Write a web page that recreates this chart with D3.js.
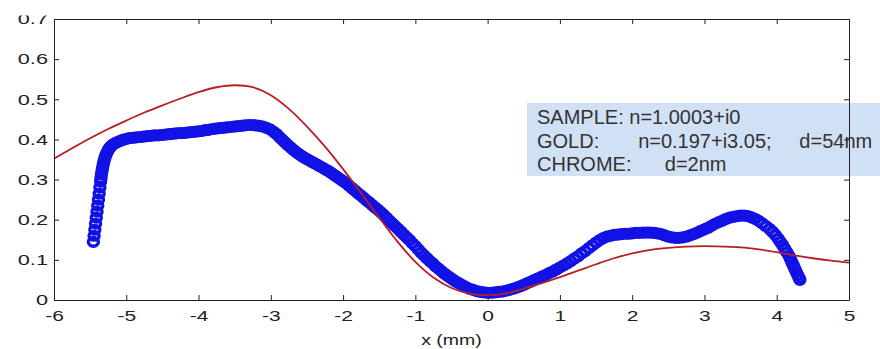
<!DOCTYPE html>
<html>
<head>
<meta charset="utf-8">
<script src="https://cdn.jsdelivr.net/npm/d3@7"></script>
<style>
  html, body { margin: 0; padding: 0; background: #fff; }
  svg { display: block; }
</style>
</head>
<body>
<svg id="chart" width="880" height="349"></svg>
<script>
// Axis ticks
const xTicks = [-6, -5, -4, -3, -2, -1, 0, 1, 2, 3, 4, 5];
const yTicks = [0, 0.1, 0.2, 0.3, 0.4, 0.5, 0.6, 0.7];
const yTickLabels = ["0", "0.1", "0.2", "0.3", "0.4", "0.5", "0.6", "0.7"];
const xAxisLabel = "x (mm)";

// Annotation lines
const infoLines = [
  "SAMPLE: n=1.0003+i0",
  "GOLD:       n=0.197+i3.05;     d=54nm",
  "CHROME:      d=2nm"
];

// Measured reflectance vs. position (x in mm, reflectance)
const measured = [
  [-5.455,0.145],[-5.445,0.160],[-5.435,0.175],[-5.425,0.190],[-5.415,0.205],[-5.405,0.220],
  [-5.395,0.235],[-5.385,0.250],[-5.375,0.265],[-5.365,0.280],[-5.355,0.295],
  [-5.35,0.304],[-5.343,0.313],[-5.335,0.322],[-5.326,0.331],[-5.316,0.340],[-5.305,0.348],
  [-5.292,0.356],[-5.278,0.363],[-5.262,0.369],[-5.245,0.375],[-5.225,0.380],[-5.20,0.385],
  [-5.17,0.389],[-5.13,0.393],[-5.09,0.396],[-5.05,0.399],[-5.01,0.401],
  [-4.96,0.403],[-4.91,0.404],[-4.86,0.405],[-4.81,0.406],[-4.76,0.407],[-4.71,0.408],
  [-4.66,0.409],[-4.61,0.410],[-4.56,0.410],[-4.51,0.411],[-4.46,0.412],[-4.41,0.413],
  [-4.36,0.414],[-4.31,0.415],[-4.26,0.416],[-4.21,0.416],[-4.16,0.417],[-4.11,0.418],
  [-4.06,0.419],[-4.01,0.420],[-3.96,0.421],[-3.91,0.423],[-3.86,0.424],[-3.81,0.426],
  [-3.76,0.427],[-3.71,0.428],[-3.66,0.429],[-3.61,0.430],[-3.56,0.431],[-3.51,0.432],
  [-3.46,0.433],[-3.41,0.434],[-3.36,0.435],[-3.31,0.436],[-3.26,0.436],[-3.21,0.435],
  [-3.16,0.434],[-3.11,0.432],[-3.06,0.429],[-3.01,0.425],
  [-2.96,0.419],[-2.92,0.413],[-2.88,0.406],[-2.84,0.399],[-2.80,0.392],[-2.76,0.385],
  [-2.72,0.379],[-2.68,0.373],[-2.64,0.367],[-2.60,0.362],[-2.56,0.357],[-2.52,0.353],
  [-2.48,0.349],[-2.44,0.345],[-2.40,0.341],[-2.36,0.337],[-2.32,0.333],[-2.28,0.329],
  [-2.24,0.325],[-2.20,0.321],[-2.16,0.316],[-2.12,0.311],[-2.08,0.306],[-2.04,0.301],
  [-2.00,0.296],[-1.96,0.291],[-1.92,0.285],[-1.88,0.279],[-1.84,0.273],[-1.80,0.267],
  [-1.76,0.261],[-1.72,0.255],[-1.68,0.249],[-1.64,0.243],[-1.60,0.237],[-1.56,0.231],
  [-1.52,0.225],[-1.48,0.219],[-1.44,0.212],[-1.40,0.205],[-1.36,0.198],[-1.32,0.191],
  [-1.28,0.184],[-1.24,0.177],[-1.20,0.170],[-1.16,0.163],[-1.12,0.156],[-1.08,0.149],
  [-1.04,0.141],[-1.00,0.134],[-0.96,0.126],[-0.92,0.118],[-0.88,0.111],[-0.84,0.104],
  [-0.80,0.097],[-0.76,0.091],[-0.72,0.084],[-0.68,0.078],[-0.64,0.072],[-0.60,0.066],
  [-0.56,0.061],[-0.52,0.056],[-0.48,0.051],[-0.44,0.046],[-0.40,0.042],[-0.35,0.037],
  [-0.30,0.032],[-0.25,0.028],[-0.20,0.025],[-0.15,0.022],[-0.10,0.020],[-0.05,0.019],
  [0.00,0.018],[0.05,0.018],[0.10,0.019],[0.15,0.020],[0.20,0.021],[0.25,0.023],
  [0.30,0.025],[0.35,0.028],[0.40,0.031],[0.45,0.034],[0.50,0.038],[0.55,0.042],
  [0.60,0.046],[0.65,0.050],[0.70,0.054],[0.75,0.058],[0.80,0.062],[0.85,0.067],
  [0.90,0.071],[0.95,0.076],[1.00,0.081],[1.05,0.086],[1.10,0.091],[1.15,0.097],
  [1.20,0.103],[1.25,0.109],[1.30,0.116],[1.35,0.122],[1.40,0.129],[1.45,0.136],
  [1.50,0.143],[1.55,0.149],[1.60,0.154],[1.65,0.158],[1.70,0.160],[1.75,0.162],
  [1.80,0.163],[1.85,0.164],[1.90,0.165],[1.95,0.165],[2.00,0.166],[2.05,0.167],
  [2.10,0.167],[2.15,0.168],[2.20,0.168],[2.25,0.168],[2.30,0.167],[2.35,0.166],
  [2.40,0.164],[2.45,0.161],[2.50,0.158],[2.55,0.156],[2.60,0.155],[2.65,0.155],
  [2.70,0.156],[2.75,0.158],[2.80,0.161],[2.85,0.164],[2.90,0.168],[2.95,0.172],
  [3.00,0.176],[3.05,0.180],[3.10,0.185],[3.15,0.190],[3.20,0.194],[3.25,0.198],
  [3.30,0.202],[3.35,0.205],[3.40,0.207],[3.45,0.209],[3.50,0.210],[3.55,0.210],
  [3.60,0.209],[3.65,0.206],[3.70,0.202],[3.75,0.197],[3.80,0.191],[3.85,0.184],
  [3.90,0.177],[3.94,0.170],[3.98,0.162],[4.02,0.153],[4.05,0.145],[4.08,0.137],
  [4.11,0.128],[4.14,0.119],[4.17,0.110],[4.19,0.102],[4.21,0.094],[4.23,0.086],
  [4.25,0.078],[4.27,0.070],[4.29,0.062],[4.31,0.055],[4.32,0.050]
];

// Calculated reflectance for the layer model (x in mm, reflectance)
const model = [
  [-6.0,0.352],[-5.75,0.378],[-5.5,0.403],[-5.25,0.426],[-5.0,0.447],[-4.75,0.467],
  [-4.5,0.485],[-4.25,0.502],[-4.0,0.518],[-3.75,0.530],[-3.5,0.535],[-3.25,0.530],
  [-3.0,0.510],[-2.75,0.476],[-2.5,0.432],[-2.25,0.382],[-2.0,0.326],[-1.75,0.266],
  [-1.5,0.205],[-1.25,0.146],[-1.0,0.095],[-0.75,0.056],[-0.5,0.030],[-0.25,0.016],
  [0.0,0.012],[0.25,0.016],[0.5,0.028],[0.75,0.042],[1.0,0.057],[1.25,0.073],
  [1.5,0.089],[1.75,0.104],[2.0,0.116],[2.25,0.125],[2.5,0.130],[2.75,0.133],
  [3.0,0.134],[3.25,0.133],[3.5,0.131],[3.75,0.126],[4.0,0.119],[4.25,0.111],
  [4.5,0.104],[4.75,0.098],[5.0,0.093]
];

const svg = d3.select("#chart");
const plot = { left: 54, right: 849, top: 19, bottom: 300 };
const FONT = "'Liberation Sans', Arial, Helvetica, sans-serif";
const INK = "#222";

const x = d3.scaleLinear().domain([-6, 5]).range([plot.left, plot.right]);
const y = d3.scaleLinear().domain([0, 0.7]).range([plot.bottom, plot.top]);

svg.append("rect").attr("width", 880).attr("height", 349).attr("fill", "#fff");

// Measured data: open circle markers
svg.append("g")
  .selectAll("ellipse")
  .data(measured)
  .join("ellipse")
  .attr("cx", d => x(d[0]))
  .attr("cy", d => y(d[1]))
  .attr("rx", 5)
  .attr("ry", 4.4)
  .attr("fill", "none")
  .attr("stroke", "#1212e6")
  .attr("stroke-width", 3.4);

// Model curve
svg.append("path")
  .datum(model)
  .attr("fill", "none")
  .attr("stroke", "#b81e22")
  .attr("stroke-width", 1.8)
  .attr("d", d3.line().x(d => x(d[0])).y(d => y(d[1])).curve(d3.curveCatmullRom.alpha(0.5)));

// Annotation box (runs off the right edge)
svg.append("rect")
  .attr("x", 527).attr("y", 103)
  .attr("width", 380).attr("height", 73)
  .attr("fill", "#d0e0f5");

// Axes box with inward ticks on all four sides
function styleAxis(g) {
  g.selectAll("path.domain").attr("stroke", INK).attr("stroke-width", 1);
  g.selectAll(".tick line").attr("stroke", INK).attr("stroke-width", 1);
  g.selectAll("text").attr("fill", INK).attr("font-family", FONT).attr("font-size", 15);
}

// The figure's top edge trims the upper sliver of the highest y label
const clip = svg.append("defs").append("clipPath").attr("id", "topcut");
clip.append("rect").attr("x", -200).attr("y", 15.5).attr("width", 1200).attr("height", 400);

const gBottom = svg.append("g")
  .attr("transform", `translate(0,${plot.bottom})`)
  .call(d3.axisBottom(x).tickValues(xTicks).tickSizeInner(-5).tickSizeOuter(0).tickPadding(10)
    .tickFormat(d => String(d)));
styleAxis(gBottom);
gBottom.selectAll("text").attr("transform", "scale(1.4,1)");

const gTop = svg.append("g")
  .attr("transform", `translate(0,${plot.top})`)
  .call(d3.axisTop(x).tickValues(xTicks).tickSizeInner(-5).tickSizeOuter(0).tickFormat(""));
styleAxis(gTop);

const gLeft = svg.append("g")
  .attr("transform", `translate(${plot.left},0)`)
  .attr("clip-path", "url(#topcut)")
  .call(d3.axisLeft(y).tickValues(yTicks).tickSizeInner(-5).tickSizeOuter(0)
    .tickFormat((d, i) => yTickLabels[i]));
styleAxis(gLeft);
gLeft.selectAll("text").attr("x", 0).attr("transform", "translate(-6,0) scale(1.45,1)");

const gRight = svg.append("g")
  .attr("transform", `translate(${plot.right},0)`)
  .call(d3.axisRight(y).tickValues(yTicks).tickSizeInner(-5).tickSizeOuter(0).tickFormat(""));
styleAxis(gRight);

// Axis title
svg.append("text")
  .attr("transform", `translate(${(plot.left + plot.right) / 2},345) scale(1.3,1)`)
  .attr("text-anchor", "middle")
  .attr("font-family", FONT)
  .attr("font-size", 15)
  .attr("fill", INK)
  .text(xAxisLabel);

// Annotation text
svg.append("g")
  .selectAll("text")
  .data(infoLines)
  .join("text")
  .attr("x", 537)
  .attr("y", (d, i) => 124 + i * 23.5)
  .attr("font-family", FONT)
  .attr("font-size", 20)
  .attr("fill", "#333")
  .style("white-space", "pre")
  .text(d => d);
</script>
</body>
</html>
